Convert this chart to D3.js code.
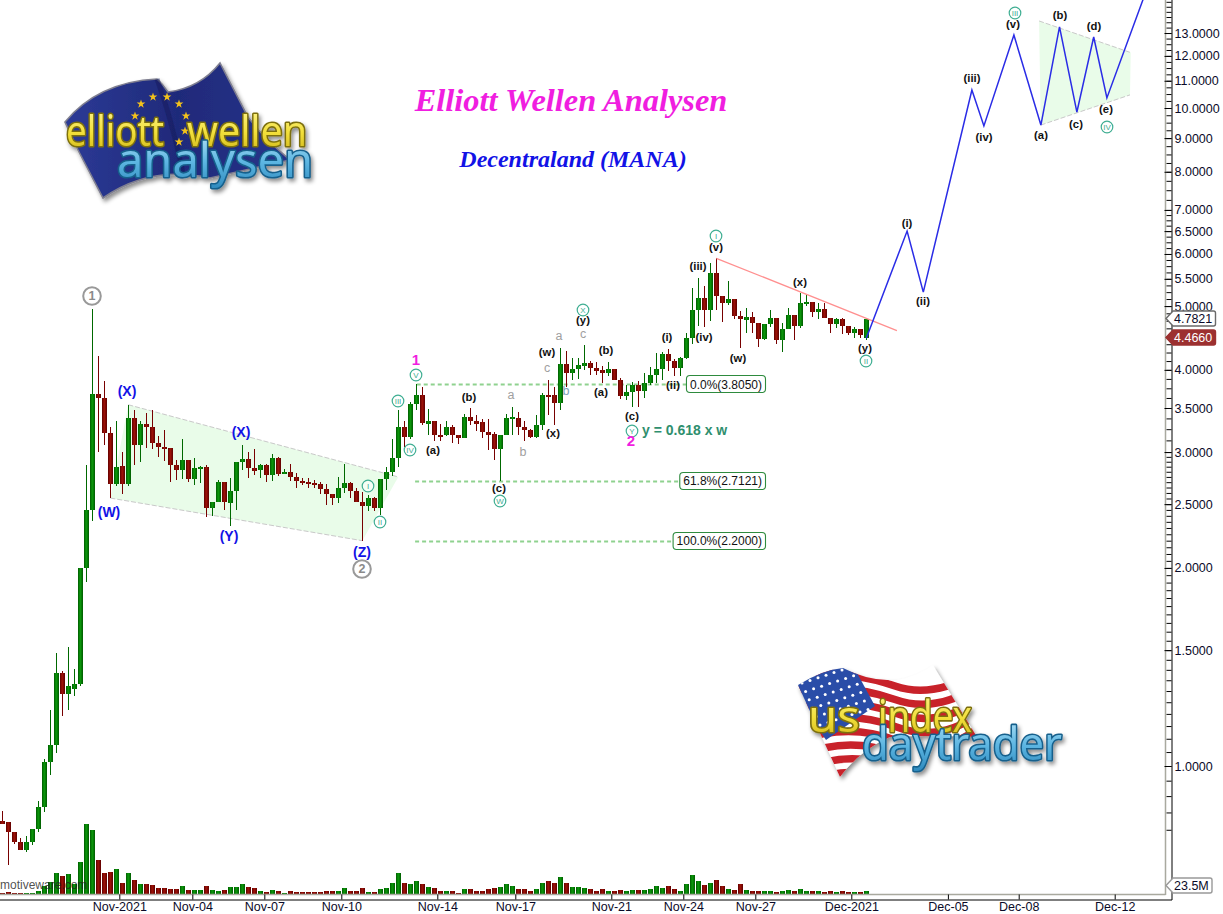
<!DOCTYPE html>
<html><head><meta charset="utf-8">
<script src="https://cdnjs.cloudflare.com/ajax/libs/d3/7.8.5/d3.min.js"></script>
<style>html,body{margin:0;padding:0;background:#fff;overflow:hidden}svg{display:block}text{font-family:"Liberation Sans",Arial,sans-serif}</style>
</head><body><svg id="c" width="1223" height="914"></svg>
<script>
const opens=[.824,.822,.794,.767,.745,.767,.802,.866,1.014,1.076,
1.385,1.287,1.31,1.332,2.0,2.45,3.676,3.625,3.21,2.68,
2.86,2.68,3.38,3.07,3.31,3.27,3.10,3.05,3.04,2.87,
2.82,2.92,2.73,2.83,2.85,2.47,2.52,2.70,2.51,2.62,
2.90,2.93,2.84,2.82,2.87,2.77,2.94,2.78,2.80,2.75,
2.71,2.70,2.69,2.68,2.64,2.59,2.55,2.65,2.69,2.62,
2.52,2.48,2.55,2.47,2.73,2.80,2.94,3.27,3.16,3.55,
3.66,3.31,3.35,3.19,3.19,3.28,3.18,3.15,3.39,3.35,
3.33,3.22,3.20,3.03,3.19,3.37,3.38,3.28,3.24,3.16,
3.30,3.66,3.66,3.56,4.08,3.95,4.01,4.05,4.09,4.03,
4.0,3.96,4.01,3.86,3.65,3.70,3.80,3.71,3.82,3.93,
4.01,4.23,4.12,4.03,4.17,4.47,4.94,5.15,4.94,5.61,
5.18,5.05,5.12,4.83,4.76,4.81,4.71,4.46,4.70,4.80,
4.44,4.62,4.85,4.67,5.05,5.07,4.90,4.95,4.80,4.70,
4.78,4.67,4.55,4.62,4.466];
const highs=[.854,.822,.794,.776,.783,.802,.885,1.025,1.216,1.485,
1.394,1.516,1.404,2.0,2.867,4.943,4.2,3.85,3.28,3.35,
3.0,3.54,3.475,3.35,3.44,3.47,3.17,3.24,3.04,2.92,
3.135,2.92,2.94,2.86,2.87,2.52,2.72,2.70,2.74,2.90,
3.07,3.0,3.03,2.88,2.88,2.98,2.95,2.83,2.88,2.79,
2.74,2.74,2.72,2.70,2.68,2.59,2.75,2.88,2.70,2.65,
2.61,2.58,2.56,2.73,2.85,3.14,3.47,3.35,3.58,3.805,
3.77,3.49,3.35,3.31,3.35,3.30,3.19,3.43,3.50,3.41,
3.37,3.37,3.22,3.19,3.43,3.51,3.45,3.35,3.25,3.41,
3.69,3.86,3.77,4.32,4.27,4.17,4.17,4.37,4.12,4.11,
4.06,4.11,4.01,3.89,3.80,3.84,3.85,3.96,4.04,4.25,
4.26,4.30,4.15,4.19,4.55,5.33,5.51,5.37,5.81,5.92,
5.18,5.46,5.12,4.92,4.97,4.90,4.71,4.70,4.94,4.80,
4.72,4.96,4.85,5.24,5.2,5.07,5.05,5.05,4.80,4.80,
4.80,4.67,4.64,4.62,4.80];
const lows=[.816,.707,.761,.745,.740,.758,.794,.851,.969,1.047,
1.191,1.216,1.278,1.323,1.904,2.36,3.0,3.08,2.55,2.66,
2.59,2.66,2.87,2.90,3.04,3.03,2.95,2.91,2.70,2.72,
2.73,2.70,2.67,2.69,2.39,2.40,2.52,2.45,2.32,2.45,
2.82,2.74,2.77,2.74,2.70,2.71,2.76,2.78,2.71,2.65,
2.67,2.65,2.65,2.59,2.49,2.49,2.51,2.60,2.55,2.52,
2.20,2.44,2.44,2.41,2.63,2.76,2.85,3.05,3.135,3.475,
3.30,3.19,3.12,3.12,3.17,3.10,3.09,3.15,3.30,3.23,
3.15,3.02,2.92,2.712,3.19,3.19,3.18,3.12,3.15,3.15,
3.245,3.41,3.30,3.475,3.77,3.86,3.87,4.0,3.93,3.93,
3.82,3.92,3.86,3.61,3.60,3.51,3.51,3.63,3.80,3.82,
3.86,3.99,3.92,3.92,4.15,4.38,4.67,4.64,4.74,4.94,
4.73,5.02,4.78,4.32,4.55,4.55,4.33,4.44,4.64,4.38,
4.26,4.62,4.44,4.63,5.0,4.81,4.78,4.80,4.55,4.63,
4.54,4.52,4.47,4.47,4.44];
const closes=[.816,.794,.767,.745,.767,.802,.866,1.014,1.076,1.385,
1.287,1.323,1.332,2.0,2.45,3.676,3.625,3.21,2.68,2.85,
2.68,3.38,3.07,3.31,3.27,3.10,3.05,3.03,2.87,2.82,
2.92,2.73,2.84,2.85,2.47,2.52,2.70,2.52,2.62,2.90,
2.93,2.84,2.81,2.87,2.77,2.94,2.78,2.80,2.75,2.71,
2.69,2.68,2.68,2.64,2.59,2.55,2.65,2.69,2.62,2.52,
2.48,2.55,2.47,2.73,2.80,2.94,3.27,3.16,3.55,3.66,
3.32,3.35,3.19,3.17,3.28,3.18,3.15,3.39,3.35,3.31,
3.22,3.19,3.03,3.19,3.38,3.39,3.28,3.24,3.16,3.30,
3.66,3.64,3.56,4.08,3.95,4.01,4.07,4.09,4.03,3.99,
3.96,4.01,3.86,3.65,3.70,3.80,3.71,3.82,3.93,4.01,
4.23,4.12,4.03,4.17,4.47,4.94,5.15,4.94,5.61,5.18,
5.05,5.12,4.83,4.78,4.81,4.71,4.46,4.70,4.80,4.44,
4.62,4.85,4.67,5.05,5.07,4.90,4.95,4.80,4.70,4.78,
4.67,4.55,4.62,4.52,4.7821];
const volumes=[2.6,5.2,2.6,2.6,2.6,2.6,7.8,21,31,55,
47,52,26,83,182,166,88,55,57,65,
29,55,36,26,26,23,16,16,13,13,
21,10,10,10,21,10,8,10,18,18,
26,18,16,8,5,10,8,3,8,5,
5,5,5,5,8,8,8,16,8,8,
16,5,5,13,16,29,55,29,26,34,
26,18,16,8,8,8,3,13,13,8,
8,13,16,18,26,21,13,13,8,13,
29,34,29,44,29,18,18,16,13,8,
13,8,8,10,8,10,10,10,13,21,
16,21,13,8,26,49,34,23,29,36,
21,13,10,26,10,8,8,8,8,5,
8,10,8,13,8,8,8,5,8,5,
8,5,5,5,8];
const timeTickBars=[19.5,31.67,43.67,56.5,72.5,85.5,101.5,113.5,125.5,141.5,157.6,169.4,185.4];
const timeTickLabels=["Nov-2021","Nov-04","Nov-07","Nov-10","Nov-14","Nov-17","Nov-21","Nov-24","Nov-27","Dec-2021","Dec-05","Dec-08","Dec-12"];
const priceTicks=[1,1.5,2,2.5,3,3.5,4,5,5.5,6,6.5,7,8,9,10,11,12,13];
const forecastBars=[144,150.8,153.5,161.6,163.6,168.6,173.1,176.2,179.1,181.9,184.1,190.4];
const forecastPrices=[4.466,6.50,5.25,10.65,9.39,12.91,9.42,13.28,9.86,12.82,10.36,14.85];
const channelBars=[21,66,60,18];
const channelPrices=[3.54,2.75,2.20,2.554];
const triangleBars=[172.8,188.07,187.95,173.07];
const trianglePrices=[13.56,12.14,10.47,9.42];
const trendBars=[119,149.1];
const trendPrices=[5.91,4.59];
const fibNames=["0.0%","61.8%","100.0%"];
const fibPrices=[3.805,2.7121,2.2];
const fibStartBars=[69.07,68.8,68.8];
const fibEndBars=[114.2,112.95,111.9];
const lastPrice=4.7821, markerPrice=4.466, lastVolume=23.5;

const svg=d3.select("#c");
const x=d3.scaleLinear().domain([0,190]).range([2.3,1142.3]);
const y=d3.scaleLog().domain([1,10]).range([766,108]);
const vol=d3.scaleLinear().domain([0,23.5]).range([894,885]);
const defs=svg.append("defs");
function grad(id,stops,horizontal){const g=defs.append("linearGradient").attr("id",id);
 if(!horizontal){g.attr("x1",0).attr("x2",0).attr("y1",0).attr("y2",1);}
 stops.forEach(s=>g.append("stop").attr("offset",s[0]).attr("stop-color",s[1]));}
grad("gUp",[[0,"#005a00"],[.45,"#0b9a0b"],[1,"#005a00"]],true);
grad("gDn",[[0,"#5e0000"],[.45,"#a01208"],[1,"#5e0000"]],true);
grad("gYel",[[0,"#fff8a0"],[.55,"#f2df3a"],[1,"#c9ae12"]]);
grad("gBlu",[[0,"#c8ecfa"],[.55,"#5db6e2"],[1,"#2a86bb"]]);
grad("gEu",[[0,"#2c3a96"],[.5,"#1f2a7a"],[1,"#28338a"]],true);
const sh=defs.append("filter").attr("id","shadow").attr("x","-20%").attr("y","-20%").attr("width","140%").attr("height","150%");
sh.append("feDropShadow").attr("dx",2).attr("dy",3).attr("stdDeviation",2).attr("flood-color","#000").attr("flood-opacity",.45);

// channels
const poly=(bs,ps)=>bs.map((b,i)=>[x(b),y(ps[i])]);
const ln=d3.line();
const fillCol="#e9fce9", edge="#c9c9c9";
[[channelBars,channelPrices],[triangleBars,trianglePrices]].forEach(([b,p])=>{
 const P=poly(b,p);
 svg.append("path").attr("d",ln(P)+"Z").attr("fill",fillCol);
 svg.append("path").attr("d",ln([P[0],P[1]])).attr("stroke",edge).attr("fill","none").attr("stroke-dasharray","5 2");
 svg.append("path").attr("d",ln([P[3],P[2]])).attr("stroke",edge).attr("fill","none").attr("stroke-dasharray","5 2");
});

// fib lines
svg.append("g").selectAll("line").data(fibPrices).join("line")
 .attr("x1",(d,i)=>x(fibStartBars[i])).attr("x2",(d,i)=>x(fibEndBars[i]))
 .attr("y1",d=>Math.round(y(d))+.5).attr("y2",d=>Math.round(y(d))+.5)
 .attr("stroke","#8fd28f").attr("stroke-width",2).attr("stroke-dasharray","4 3");

// candles
const idx=d3.range(opens.length);
const cg=svg.append("g").attr("shape-rendering","crispEdges");
cg.selectAll("rect.w").data(idx).join("rect").attr("class","w")
 .attr("x",i=>Math.round(x(i))).attr("width",1)
 .attr("y",i=>y(highs[i])).attr("height",i=>Math.max(1,y(lows[i])-y(highs[i])))
 .attr("fill",i=>closes[i]>=opens[i]?"#006800":"#780000");
cg.selectAll("rect.b").data(idx).join("rect").attr("class","b")
 .attr("x",i=>Math.round(x(i))-2).attr("width",5)
 .attr("y",i=>Math.min(y(opens[i]),y(closes[i])))
 .attr("height",i=>Math.max(2,Math.abs(y(opens[i])-y(closes[i]))))
 .attr("fill",i=>closes[i]>=opens[i]?"url(#gUp)":"url(#gDn)");
cg.selectAll("rect.v").data(idx).join("rect").attr("class","v")
 .attr("x",i=>Math.round(x(i))-2).attr("width",5)
 .attr("y",i=>vol(volumes[i])).attr("height",i=>vol(0)-vol(volumes[i]))
 .attr("fill",i=>closes[i]>=opens[i]?"url(#gUp)":"url(#gDn)");

// trend and forecast
svg.append("path").attr("d",ln(poly(trendBars,trendPrices))).attr("stroke","#ff8f8f").attr("stroke-width",1.3).attr("fill","none");
svg.append("path").attr("d",ln(poly(forecastBars,forecastPrices))).attr("stroke","#2a2ce6").attr("stroke-width",1.5).attr("fill","none");

// annotation layout (pixel placement of labels)
const blackLabels=[["(a)",433,450],["(b)",469,397],["(c)",499,488],["(w)",547,352],["(x)",553,433],["(y)",583,320],["(a)",601,392],["(b)",606,350],["(c)",632,416],["(i)",667,337],["(ii)",673,385],["(iii)",698,266],["(iv)",704,337],["(v)",716,247],["(w)",738,358],["(x)",800,282],["(y)",865,348],["(i)",907,223],["(ii)",923,301],["(iii)",972,78],["(iv)",984,137],["(v)",1013,24],["(a)",1041,135],["(b)",1060,15],["(c)",1076,124],["(d)",1094,26],["(e)",1106,109]];
const blueLabels=[["(X)",127,391],["(W)",109,512],["(X)",241,432],["(Y)",229,536],["(Z)",362,552]];
const grayLabels=[["a",511,395],["b",523,452],["c",547,368],["a",559,336],["c",583,334]];
const teal="#3fae92";
const circled=[["III",398,401],["V",416,375],["IV",410,450],["I",368,486],["II",380,522],["W",500,501],["X",583,310],["Y",632,431],["I",716,236],["II",866,361],["III",1015,13],["IV",1107,127]];
const put=(arr,fs,col,w)=>arr.forEach(a=>svg.append("text").text(a[0]).attr("x",a[1]).attr("y",a[2]).attr("dy",".35em").attr("text-anchor","middle").attr("font-size",fs).attr("font-weight",w||"bold").attr("fill",col));
put(blackLabels,11.3,"#111");
put(blueLabels,14,"#1212e6");
put(grayLabels,12.5,"#a0a0a0","normal");
put([["b",566,391]],12.5,"#7aa0b8","normal");
svg.append("g").selectAll("circle").data(circled).join("circle").attr("cx",d=>d[1]).attr("cy",d=>d[2]).attr("r",5.8).attr("fill","#fff").attr("fill-opacity",.6).attr("stroke",teal).attr("stroke-width",1.2);
put(circled,8,teal,"normal");
put([["1",416,360],["2",631,441]],15,"#f01ee0");
[["1",92,296],["2",362,569]].forEach(a=>{svg.append("circle").attr("cx",a[1]).attr("cy",a[2]).attr("r",8.8).attr("fill","#fff").attr("stroke","#999").attr("stroke-width",2);});
put([["1",92,296],["2",362,569]],12.5,"#8a8a8a");
svg.append("text").text("y = 0.618 x w").attr("x",642).attr("y",435).attr("font-size",14).attr("font-weight","bold").attr("fill","#2f8f6e");
svg.append("text").text("motiveware.com").attr("x",0).attr("y",889).attr("font-size",12).attr("fill","#222").attr("fill-opacity",.8);

// titles
svg.append("text").text("Elliott Wellen Analysen").attr("x",571).attr("y",111).attr("text-anchor","middle").attr("font-size",32.4).attr("font-weight","bold").attr("font-style","italic").attr("fill","#f01ee0").style("font-family","'Liberation Serif',serif");
svg.append("text").text("Decentraland (MANA)").attr("x",573).attr("y",167).attr("text-anchor","middle").attr("font-size",24).attr("font-weight","bold").attr("font-style","italic").attr("fill","#1212e6").style("font-family","'Liberation Serif',serif");

// fib boxes
fibPrices.forEach((p,k)=>{
 const g=svg.append("g");
 const t=g.append("text").text(`${fibNames[k]}(${p.toFixed(4)})`).attr("y",y(p)+4.5).attr("font-size",12).attr("fill","#111");
 const w=t.node().getComputedTextLength();
 const right=765.5, left=right-w-7;
 t.attr("x",left+3.5);
 g.insert("rect","text").attr("x",left).attr("y",Math.round(y(p))-8.5).attr("width",w+7).attr("height",17).attr("rx",3.5).attr("fill","#fff").attr("stroke","#2e8b3e").attr("stroke-width",1.1);
});

// axes
const gray="#a9a99f";
svg.append("line").attr("x1",0).attr("x2",1165.5).attr("y1",894.5).attr("y2",894.5).attr("stroke",gray).attr("stroke-width",1.5);
svg.append("line").attr("x1",1165.5).attr("x2",1165.5).attr("y1",0).attr("y2",895).attr("stroke",gray).attr("stroke-width",1.5);
const ax=svg.append("g").attr("transform","translate(0,899.5)")
 .call(d3.axisBottom(x).tickValues(timeTickBars).tickFormat((d,i)=>timeTickLabels[i]).tickSizeInner(-5).tickSizeOuter(0).tickPadding(3));
ax.select(".domain").attr("d","M0,0.5H1172");
ax.selectAll("text").attr("font-size",12.5).style("font-family","'Liberation Sans',sans-serif").attr("fill","#0a0a28");
ax.selectAll("line").attr("stroke","#000");
const minor=d3.range(.8,3,.05).concat(d3.range(3,7,.125),d3.range(7,15.1,.25));
const ay2=svg.append("g").attr("transform","translate(1171.5,0)")
 .call(d3.axisRight(y).tickValues(minor).tickFormat("").tickSizeInner(-5).tickSizeOuter(0));
ay2.select(".domain").remove(); ay2.selectAll("line").attr("stroke","#000");
const ay=svg.append("g").attr("transform","translate(1171.5,0)")
 .call(d3.axisRight(y).tickValues(priceTicks).tickFormat(d3.format(".4f")).tickSizeInner(-7).tickSizeOuter(0).tickPadding(3));
ay.select(".domain").attr("d","M0.5,0V900");
ay.selectAll("line").attr("stroke","#000");
ay.selectAll("text").attr("font-size",12.5).style("font-family","'Liberation Sans',sans-serif").attr("fill","#0a0a28");

// price tags
function tag(yy,txt,fill,stroke,col,right){
 const top=yy-7.5,bot=yy+7.5;
 const g=svg.append("g");
 g.append("path").attr("d",`M1166,${yy}L1173,${top}H${right-2}Q${right},${top} ${right},${top+2}V${bot-2}Q${right},${bot} ${right-2},${bot}H1173Z`).attr("fill",fill).attr("stroke",stroke).attr("stroke-width",1.4);
 g.append("text").text(txt).attr("x",1174).attr("y",yy+4.5).attr("font-size",12.5).attr("fill",col);
}
tag(Math.round(y(lastPrice))-.5,lastPrice.toFixed(4),"#fff","#6a6a6a","#0a0a28",1215.5);
tag(Math.round(y(markerPrice))-.5,markerPrice.toFixed(4),"#9c3030","#9c3030","#fff",1215.5);
tag(Math.round(vol(lastVolume))+.5,lastVolume.toFixed(1)+"M","#fff","#999","#0a0a28",1212);

// Logos
function logoText(g,txt,px,py,fs,len,fill,stroke){
 g.append("text").text(txt).attr("x",px).attr("y",py).attr("font-size",fs).attr("textLength",len).attr("lengthAdjust","spacingAndGlyphs")
  .style("font-family","'Noto Sans',Lato,sans-serif").attr("font-weight",400)
  .attr("fill",fill).attr("stroke",stroke).attr("stroke-width",3.2).attr("stroke-linejoin","round").attr("paint-order","stroke");
}
const eu=svg.append("g").attr("filter","url(#shadow)");
eu.append("path").attr("d","M65,122 Q98,82 157,79 Q163,84 168,92 Q200,88 220,63 L248,117 Q262,136 290,160 L210,178 Q150,165 103,198 L78,150 Z").attr("fill","url(#gEu)").attr("stroke","#7f7f90").attr("stroke-width",1.6);
eu.append("path").attr("d","M157,79 Q172,120 184,178").attr("stroke","#141c5c").attr("stroke-width",5).attr("fill","none").attr("opacity",.5);
const star=d3.symbol().type(d3.symbolStar).size(24);
[[141,104],[153,97],[167,97],[179,104],[186,116],[135,116],[185,131],[179,142]].forEach(s=>eu.append("path").attr("d",star()).attr("transform",`translate(${s[0]},${s[1]})`).attr("fill","#f3c21c"));
logoText(eu,"elliott",66,146,41,98,"url(#gYel)","#7d7010");
logoText(eu,"wellen",187,146,41,120,"url(#gYel)","#7d7010");
logoText(eu,"analysen",117,177,48,196,"url(#gBlu)","#17608c");

const us=svg.append("g").attr("filter","url(#shadow)");
const flagD="M798,685 Q822,670 843,668 Q870,682 897,680 Q918,676 933,665 L977,737 Q930,735 890,737 Q860,750 840,777 Z";
const clip=defs.append("clipPath").attr("id","usClip"); clip.append("path").attr("d",flagD);
const uf=us.append("g").attr("clip-path","url(#usClip)");
uf.append("path").attr("d",flagD).attr("fill","#fff");
d3.range(10).forEach(k=>{const o=k*13.5;
 uf.append("path").attr("d",`M${800-o*.25},${672+o*1.35} Q${855-o*.2},${672+o*.9} 895,${686+o} T985,${668+o}`).attr("stroke","#c8202a").attr("stroke-width",7.5).attr("fill","none");});
uf.append("path").attr("d","M790,685 L850,660 L875,706 L826,740 Z").attr("fill","#2c4ea8");
const starDots=[];d3.range(6).forEach(r=>d3.range(7).forEach(c=>starDots.push([802+c*8+r*3.6,683-c*2.6+r*8.4])));
uf.selectAll("circle").data(starDots).join("circle").attr("cx",d=>d[0]).attr("cy",d=>d[1]).attr("r",1.5).attr("fill","#fff");
logoText(us,"us",808,732,44,52,"url(#gYel)","#7d7010");
logoText(us,"index",878,732,44,94,"url(#gYel)","#7d7010");
logoText(us,"daytrader",862,760,46,200,"url(#gBlu)","#17608c");
</script></body></html>
